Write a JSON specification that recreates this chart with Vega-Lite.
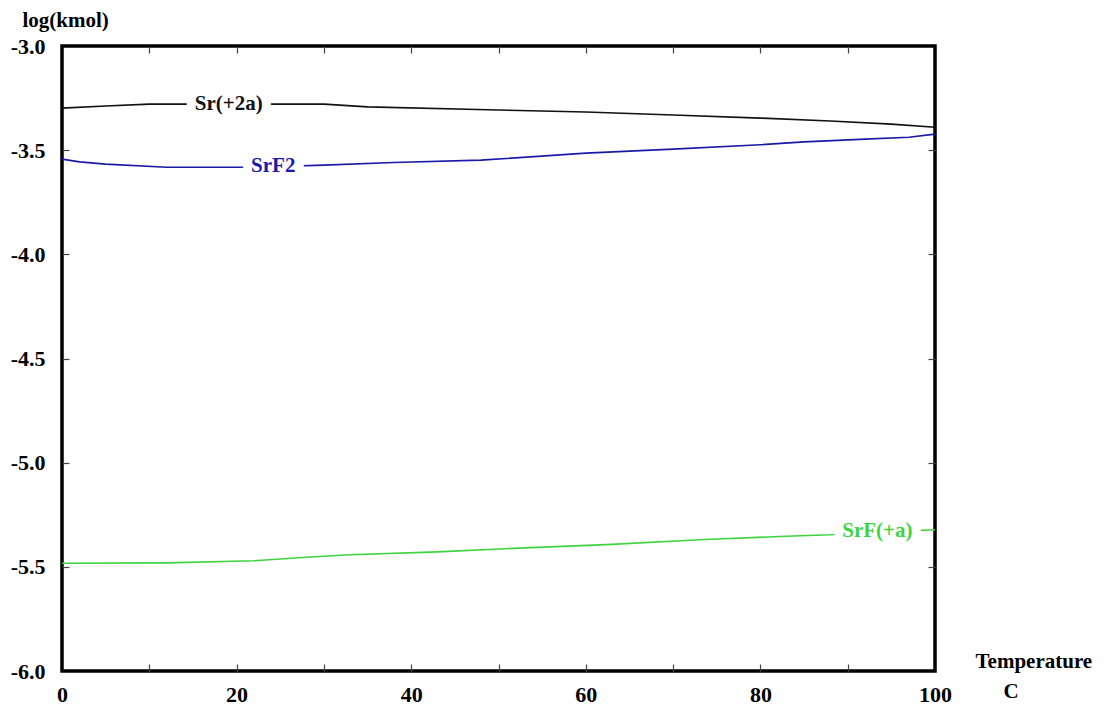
{
  "$schema": "https://vega.github.io/schema/vega-lite/v6.json",
  "width": 873,
  "height": 625,
  "autosize": {"type": "none"},
  "padding": {"left": 62, "top": 46, "right": 170, "bottom": 34},
  "background": "white",
  "config": {
    "view": {"stroke": "black", "strokeWidth": 3.5},
    "axis": {
      "domain": false,
      "grid": false,
      "labelFont": "Liberation Serif",
      "labelFontWeight": "bold",
      "labelFontSize": 22,
      "labelColor": "black",
      "titleFont": "Liberation Serif",
      "titleFontWeight": "bold",
      "titleFontSize": 21,
      "titleColor": "black",
      "tickColor": "#444444",
      "tickSize": 7,
      "tickWidth": 1.2
    }
  },
  "datasets": {
    "lines": [
      {"species": "Sr(+2a)", "t": 0, "v": -3.298},
      {"species": "Sr(+2a)", "t": 5, "v": -3.288},
      {"species": "Sr(+2a)", "t": 10, "v": -3.279},
      {"species": "Sr(+2a)", "t": 30, "v": -3.279},
      {"species": "Sr(+2a)", "t": 35, "v": -3.292},
      {"species": "Sr(+2a)", "t": 50, "v": -3.307},
      {"species": "Sr(+2a)", "t": 60, "v": -3.317},
      {"species": "Sr(+2a)", "t": 70, "v": -3.331},
      {"species": "Sr(+2a)", "t": 80, "v": -3.346},
      {"species": "Sr(+2a)", "t": 88, "v": -3.36},
      {"species": "Sr(+2a)", "t": 95, "v": -3.375},
      {"species": "Sr(+2a)", "t": 100, "v": -3.39},
      {"species": "SrF2", "t": 0, "v": -3.543},
      {"species": "SrF2", "t": 2, "v": -3.556},
      {"species": "SrF2", "t": 5, "v": -3.567},
      {"species": "SrF2", "t": 12, "v": -3.582},
      {"species": "SrF2", "t": 22, "v": -3.582},
      {"species": "SrF2", "t": 30, "v": -3.572},
      {"species": "SrF2", "t": 38, "v": -3.559},
      {"species": "SrF2", "t": 48, "v": -3.548},
      {"species": "SrF2", "t": 60, "v": -3.514},
      {"species": "SrF2", "t": 70, "v": -3.495},
      {"species": "SrF2", "t": 80, "v": -3.474},
      {"species": "SrF2", "t": 85, "v": -3.46},
      {"species": "SrF2", "t": 92, "v": -3.447},
      {"species": "SrF2", "t": 97, "v": -3.438},
      {"species": "SrF2", "t": 100, "v": -3.423},
      {"species": "SrF(+a)", "t": 0, "v": -5.483},
      {"species": "SrF(+a)", "t": 12, "v": -5.481},
      {"species": "SrF(+a)", "t": 22, "v": -5.471},
      {"species": "SrF(+a)", "t": 28, "v": -5.454},
      {"species": "SrF(+a)", "t": 33, "v": -5.442},
      {"species": "SrF(+a)", "t": 43, "v": -5.428},
      {"species": "SrF(+a)", "t": 53, "v": -5.409},
      {"species": "SrF(+a)", "t": 63, "v": -5.392},
      {"species": "SrF(+a)", "t": 73, "v": -5.37},
      {"species": "SrF(+a)", "t": 83, "v": -5.353},
      {"species": "SrF(+a)", "t": 88, "v": -5.346},
      {"species": "SrF(+a)", "t": 94, "v": -5.332},
      {"species": "SrF(+a)", "t": 100, "v": -5.322}
    ],
    "labels": [
      {"species": "Sr(+2a)", "t": 19.1, "v": -3.276},
      {"species": "SrF2", "t": 24.2, "v": -3.578},
      {"species": "SrF(+a)", "t": 93.4, "v": -5.326}
    ]
  },
  "layer": [
    {
      "data": {"name": "lines"},
      "mark": {"type": "line", "strokeWidth": 1.6},
      "encoding": {
        "x": {
          "field": "t", "type": "quantitative",
          "scale": {"domain": [0, 100], "nice": false},
          "axis": {
            "orient": "bottom",
            "values": [0, 20, 40, 60, 80, 100],
            "ticks": false,
            "labelPadding": 13,
            "labelFlush": false,
            "title": "C",
            "titleX": 941,
            "titleY": 20,
            "titleAlign": "left",
            "titleBaseline": "middle"
          }
        },
        "y": {
          "field": "v", "type": "quantitative",
          "scale": {"domain": [-6, -3], "nice": false, "zero": false},
          "axis": {
            "orient": "left",
            "values": [-6, -5.5, -5, -4.5, -4, -3.5, -3],
            "labelExpr": "(datum.value < 0 ? '-' : '') + format(abs(datum.value), '.1f')",
            "ticks": false,
            "labelPadding": 17,
            "labelFlush": false,
            "labelBaseline": "middle",
            "title": "log(kmol)",
            "titleAngle": 0,
            "titleX": -40,
            "titleY": -26,
            "titleAlign": "left",
            "titleBaseline": "middle"
          }
        },
        "color": {
          "field": "species", "type": "nominal",
          "scale": {"domain": ["Sr(+2a)", "SrF2", "SrF(+a)"], "range": ["#111111", "#1a1aa8", "#3fd43f"]},
          "legend": null
        }
      }
    },
    {
      "data": {"name": "labels"},
      "mark": {"type": "text", "fill": "white", "stroke": "white", "strokeWidth": 18, "font": "Liberation Serif", "fontWeight": "bold", "fontSize": 21, "baseline": "middle", "align": "center"},
      "encoding": {
        "x": {
          "field": "t", "type": "quantitative",
          "axis": {
            "orient": "top",
            "offset": -7,
            "values": [10, 20, 30, 40, 50, 60, 70, 80, 90],
            "labels": false,
            "title": "Temperature",
            "titleX": 913,
            "titleY": 608,
            "titleAlign": "left",
            "titleBaseline": "middle"
          }
        },
        "y": {
          "field": "v", "type": "quantitative",
          "axis": {
            "orient": "right",
            "offset": -7,
            "values": [-5.5, -5, -4.5, -4, -3.5],
            "labels": false,
            "title": null
          }
        },
        "text": {"field": "species"}
      }
    },
    {
      "data": {"name": "labels"},
      "mark": {"type": "text", "font": "Liberation Serif", "fontWeight": "bold", "fontSize": 21, "baseline": "middle", "align": "center"},
      "encoding": {
        "x": {
          "field": "t", "type": "quantitative",
          "axis": {
            "orient": "bottom",
            "offset": -7,
            "values": [10, 20, 30, 40, 50, 60, 70, 80, 90],
            "labels": false,
            "title": null
          }
        },
        "y": {
          "field": "v", "type": "quantitative",
          "axis": {
            "orient": "left",
            "offset": -7,
            "values": [-5.5, -5, -4.5, -4, -3.5],
            "labels": false,
            "title": null
          }
        },
        "text": {"field": "species"},
        "color": {
          "field": "species", "type": "nominal",
          "scale": {"domain": ["Sr(+2a)", "SrF2", "SrF(+a)"], "range": ["#111111", "#2020bb", "#3fd43f"]},
          "legend": null
        }
      }
    }
  ],
  "resolve": {"axis": {"x": "independent", "y": "independent"}}
}
